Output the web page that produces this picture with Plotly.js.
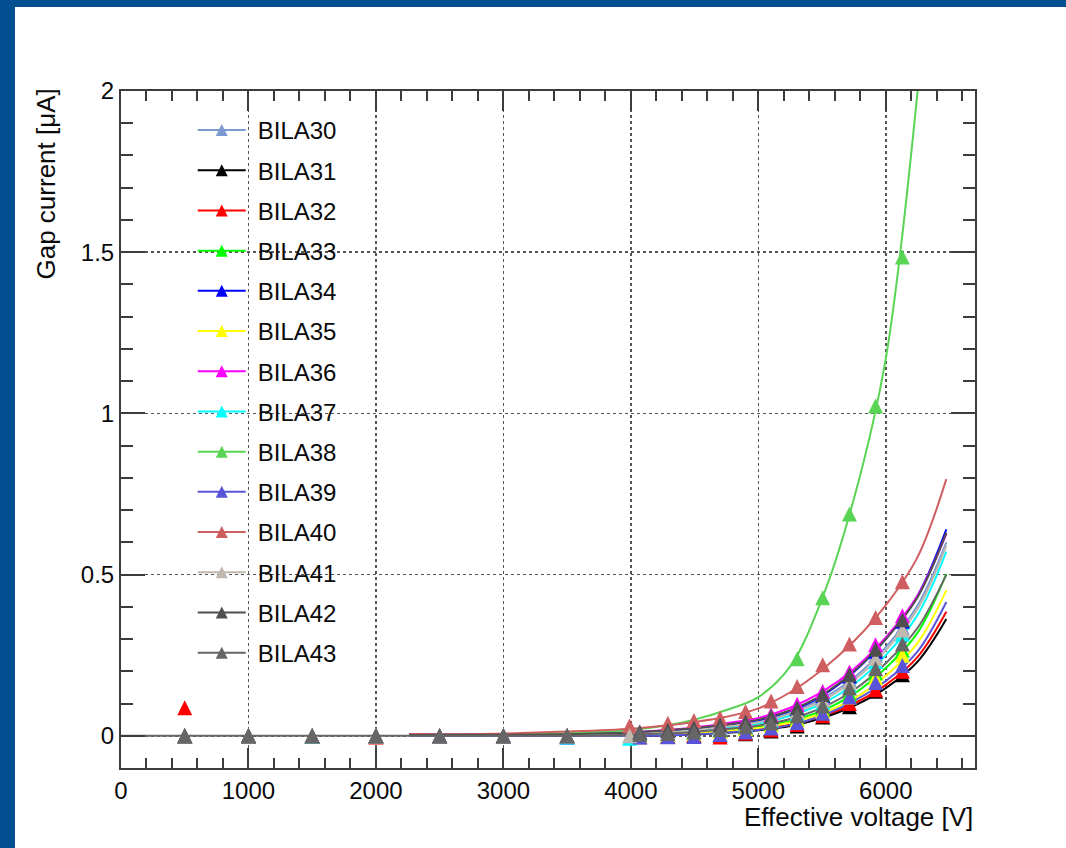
<!DOCTYPE html>
<html>
<head>
<meta charset="utf-8">
<script src="https://cdn.plot.ly/plotly-3.0.1.min.js"></script>
<style>
  html, body { margin: 0; padding: 0; background: #ffffff; }
  #frame {
    width: 1051px; height: 841px;
    border-top: 7px solid #044f92;
    border-left: 15px solid #044f92;
    background: #ffffff;
  }
  #chart { width: 1051px; height: 841px; }
</style>
</head>
<body>
<div id="frame"><div id="chart"></div></div>
<script>
// Chamber names and their ROOT-style colours
const chambers = ['BILA30','BILA31','BILA32','BILA33','BILA34','BILA35','BILA36',
                  'BILA37','BILA38','BILA39','BILA40','BILA41','BILA42','BILA43'];
const chamberColors = ['#7d99d1','#000000','#ff0000','#00ff00','#0000ff','#ffff00','#ff00ff',
                       '#00ffff','#59d454','#5954d8','#cf5e61','#c0b8ae','#4f4f4f','#666666'];

// Measured points: low-voltage scan
const vLow = [500, 1000, 1500, 2000, 2500, 3000, 3500];
const lowFlat = [0, 0, 0, 0, 0, 0, 0];
const low32 = [0.087, 0, 0, -0.004, 0, 0, 0];
const low34 = [0, 0, 0, 0, 0, 0, -0.004];
const low37 = [0, 0, -0.002, 0, 0, 0, -0.004];

// Measured points: high-voltage scan (effective voltage, V)
const vHigh  = [4070, 4290, 4495, 4700, 4900, 5100, 5305, 5505, 5715, 5920, 6130];
const vHighB = [3990, 4290, 4495, 4700, 4900, 5100, 5305, 5505, 5715, 5920, 6130];

// Gap current (uA) at the high-voltage points
const cur30 = [0.008, 0.013, 0.020, 0.029, 0.040, 0.055, 0.080, 0.117, 0.174, 0.250, 0.335];
const cur31 = [-0.003, -0.002, 0.000, 0.002, 0.006, 0.015, 0.030, 0.058, 0.090, 0.138, 0.189];
const cur32 = [-0.002, 0.000, 0.002, -0.004, 0.008, 0.018, 0.035, 0.062, 0.100, 0.143, 0.200];
const cur33 = [0.002, 0.005, 0.010, 0.016, 0.025, 0.037, 0.056, 0.085, 0.130, 0.195, 0.265];
const cur34 = [0.010, 0.016, 0.023, 0.032, 0.042, 0.058, 0.085, 0.125, 0.185, 0.262, 0.355];
const cur35 = [0.001, 0.004, 0.008, 0.014, 0.022, 0.033, 0.050, 0.077, 0.120, 0.180, 0.250];
const cur36 = [0.012, 0.018, 0.026, 0.037, 0.048, 0.066, 0.098, 0.137, 0.198, 0.282, 0.372];
const cur37 = [-0.008, 0.008, 0.015, 0.023, 0.033, 0.047, 0.070, 0.103, 0.157, 0.230, 0.315];
const cur38 = [0.011, 0.017, 0.024, 0.033, 0.043, 0.060, 0.239, 0.428, 0.688, 1.023, 1.485];
const cur39 = [-0.004, -0.003, -0.002, 0.004, 0.012, 0.024, 0.040, 0.070, 0.120, 0.165, 0.218];
const cur40 = [0.031, 0.039, 0.047, 0.055, 0.075, 0.108, 0.153, 0.220, 0.285, 0.367, 0.478];
const cur41 = [0.000, 0.011, 0.018, 0.027, 0.037, 0.052, 0.076, 0.111, 0.166, 0.240, 0.328];
const cur42 = [0.011, 0.017, 0.024, 0.033, 0.043, 0.060, 0.087, 0.128, 0.189, 0.268, 0.360];
const cur43 = [0.004, 0.007, 0.012, 0.019, 0.028, 0.040, 0.062, 0.092, 0.148, 0.208, 0.285];

// Fitted curves, sampled along the voltage axis
const vFit   = [2260, 3000, 3500, 4000, 4250, 4500, 4750, 5000, 5250, 5500, 5750, 6000, 6250, 6475];
const vFit38 = [2260, 3000, 3500, 4000, 4250, 4500, 4750, 5000, 5250, 5500, 5750, 6000, 6250, 6350];
const vFit43 = [0, 1000, 2000, 3000, 3500, 4000, 4250, 4500, 4750, 5000, 5250, 5500, 5750, 6000, 6250, 6475];
const fit30 = [0.002, 0.003, 0.004, 0.007, 0.012, 0.020, 0.031, 0.045, 0.072, 0.115, 0.180, 0.275, 0.405, 0.600];
const fit31 = [0.001, 0.001, 0.001, 0.000, 0.001, 0.004, 0.009, 0.017, 0.030, 0.055, 0.093, 0.148, 0.230, 0.362];
const fit32 = [0.005, 0.005, 0.005, 0.005, 0.006, 0.008, 0.012, 0.020, 0.034, 0.060, 0.100, 0.158, 0.245, 0.385];
const fit33 = [0.001, 0.001, 0.002, 0.002, 0.005, 0.010, 0.018, 0.028, 0.046, 0.078, 0.130, 0.210, 0.320, 0.502];
const fit34 = [0.002, 0.003, 0.004, 0.009, 0.015, 0.023, 0.034, 0.048, 0.077, 0.124, 0.198, 0.300, 0.435, 0.640];
const fit35 = [0.001, 0.001, 0.001, 0.001, 0.004, 0.008, 0.015, 0.024, 0.041, 0.070, 0.115, 0.186, 0.288, 0.451];
const fit36 = [0.003, 0.004, 0.006, 0.011, 0.017, 0.026, 0.039, 0.055, 0.087, 0.136, 0.207, 0.305, 0.435, 0.626];
const fit37 = [0.001, 0.001, 0.002, 0.003, 0.008, 0.015, 0.025, 0.038, 0.062, 0.100, 0.160, 0.250, 0.375, 0.571];
const fit38 = [0.003, 0.005, 0.008, 0.018, 0.030, 0.050, 0.080, 0.120, 0.215, 0.425, 0.735, 1.170, 2.000, 2.450];
const fit39 = [0.000, 0.000, 0.000, 0.000, 0.001, 0.004, 0.010, 0.018, 0.033, 0.062, 0.108, 0.170, 0.262, 0.415];
const fit40 = [0.004, 0.007, 0.013, 0.022, 0.031, 0.043, 0.059, 0.085, 0.135, 0.205, 0.293, 0.405, 0.555, 0.796];
const fit41 = [0.002, 0.002, 0.003, 0.005, 0.010, 0.018, 0.029, 0.042, 0.068, 0.108, 0.172, 0.265, 0.393, 0.590];
const fit42 = [0.002, 0.003, 0.005, 0.010, 0.016, 0.024, 0.035, 0.050, 0.079, 0.127, 0.200, 0.300, 0.430, 0.630];
const fit43 = [0, 0, 0, 0, 0, 0.003, 0.007, 0.012, 0.021, 0.032, 0.052, 0.087, 0.142, 0.225, 0.335, 0.500];

// Tick labels
const xTickVals = [0, 1000, 2000, 3000, 4000, 5000, 6000];
const xTickText = ['0', '1000', '2000', '3000', '4000', '5000', '6000'];
const yTickVals = [0, 0.5, 1, 1.5, 2];
const yTickText = ['0', '0.5', '1', '1.5', '2'];

// Per-chamber bundles
const lowSets  = [lowFlat, lowFlat, low32, lowFlat, low34, lowFlat, lowFlat,
                  low37, lowFlat, lowFlat, lowFlat, lowFlat, lowFlat, lowFlat];
const highV    = [vHigh, vHigh, vHigh, vHigh, vHigh, vHigh, vHigh,
                  vHighB, vHigh, vHigh, vHighB, vHighB, vHigh, vHigh];
const highSets = [cur30, cur31, cur32, cur33, cur34, cur35, cur36,
                  cur37, cur38, cur39, cur40, cur41, cur42, cur43];
const fitV     = [vFit, vFit, vFit, vFit, vFit, vFit, vFit,
                  vFit, vFit38, vFit, vFit, vFit, vFit, vFit43];
const fitSets  = [fit30, fit31, fit32, fit33, fit34, fit35, fit36,
                  fit37, fit38, fit39, fit40, fit41, fit42, fit43];

const FONT = '"Liberation Sans", Arial, Helvetica, sans-serif';
const traces = [];

// Legend entries (line + marker key only, no plotted points)
chambers.forEach((name, i) => {
  traces.push({
    type: 'scatter', mode: 'lines+markers', name: name, legendgroup: name,
    x: [null], y: [null],
    line: { color: chamberColors[i], width: 2 },
    marker: { symbol: 'triangle-up', size: 12, color: chamberColors[i], line: { width: 0 } },
    hoverinfo: 'skip'
  });
});

// Fit curves
chambers.forEach((name, i) => {
  traces.push({
    type: 'scatter', mode: 'lines', name: name, legendgroup: name, showlegend: false,
    x: fitV[i], y: fitSets[i],
    line: { color: chamberColors[i], width: 2, shape: 'spline', smoothing: 1 },
    hoverinfo: 'skip'
  });
});

// Measured points on top
chambers.forEach((name, i) => {
  traces.push({
    type: 'scatter', mode: 'markers', name: name, legendgroup: name, showlegend: false,
    x: vLow.concat(highV[i]),
    y: lowSets[i].concat(highSets[i]),
    marker: { symbol: 'triangle-up', size: 15, color: chamberColors[i], line: { width: 0 } },
    hoverinfo: 'skip'
  });
});

const axisCommon = {
  showline: true, linecolor: '#3c3c3c', linewidth: 2, mirror: 'allticks',
  ticks: 'inside', tickcolor: '#3c3c3c', tickwidth: 2,
  showgrid: true, gridcolor: '#555555', griddash: 'dot', gridwidth: 1.5,
  zeroline: false,
  tickfont: { family: FONT, size: 24, color: '#0a0a0a' },
  fixedrange: true
};

const layout = {
  width: 1051, height: 841,
  margin: { l: 106, r: 91, t: 84, b: 80 },
  paper_bgcolor: '#ffffff',
  plot_bgcolor: '#ffffff',
  showlegend: true,
  legend: {
    x: 0.084, y: 0.975, xanchor: 'left', yanchor: 'top',
    bgcolor: 'rgba(0,0,0,0)', borderwidth: 0,
    font: { family: FONT, size: 24, color: '#0a0a0a' },
    itemwidth: 55,
    tracegroupgap: 6
  },
  xaxis: Object.assign({}, axisCommon, {
    range: [0, 6700],
    tickmode: 'array', tickvals: xTickVals, ticktext: xTickText,
    ticklen: 20,
    minor: { dtick: 200, tick0: 0, ticks: 'inside', ticklen: 10, tickwidth: 2, tickcolor: '#3c3c3c', showgrid: false }
  }),
  yaxis: Object.assign({}, axisCommon, {
    range: [-0.1, 2],
    tickmode: 'array', tickvals: yTickVals, ticktext: yTickText,
    ticklen: 24,
    minor: { dtick: 0.1, tick0: 0, ticks: 'inside', ticklen: 12, tickwidth: 2, tickcolor: '#3c3c3c', showgrid: false }
  }),
  annotations: [
    {
      text: 'Effective voltage [V]', showarrow: false,
      xref: 'paper', yref: 'paper', x: 1, y: 0, xanchor: 'right', yanchor: 'top',
      yshift: -32,
      font: { family: FONT, size: 26, color: '#0a0a0a' }
    },
    {
      text: 'Gap current [\u03bcA]', showarrow: false, textangle: -90,
      xref: 'paper', yref: 'paper', x: 0, y: 1, xanchor: 'center', yanchor: 'top',
      xshift: -76, yshift: 4,
      font: { family: FONT, size: 26, color: '#0a0a0a' }
    }
  ]
};

// ROOT-style markers: triangles about as tall as they are wide
const PLOT_TRIANGLE = 'M-7.5,7.5H7.5L0,-7.5Z';
const KEY_TRIANGLE = 'M-6,6H6L0,-6Z';

Plotly.newPlot('chart', traces, layout, { staticPlot: true, displayModeBar: false }).then(gd => {
  gd.querySelectorAll('.scatterlayer path.point').forEach(p => p.setAttribute('d', PLOT_TRIANGLE));
  gd.querySelectorAll('.legend .legendlines path').forEach(p => p.setAttribute('d', 'M5,0h48'));
  gd.querySelectorAll('.legend .scatterpts').forEach(p => {
    p.setAttribute('d', KEY_TRIANGLE);
    p.setAttribute('transform', 'translate(29,0)');
  });
});
</script>
</body>
</html>
